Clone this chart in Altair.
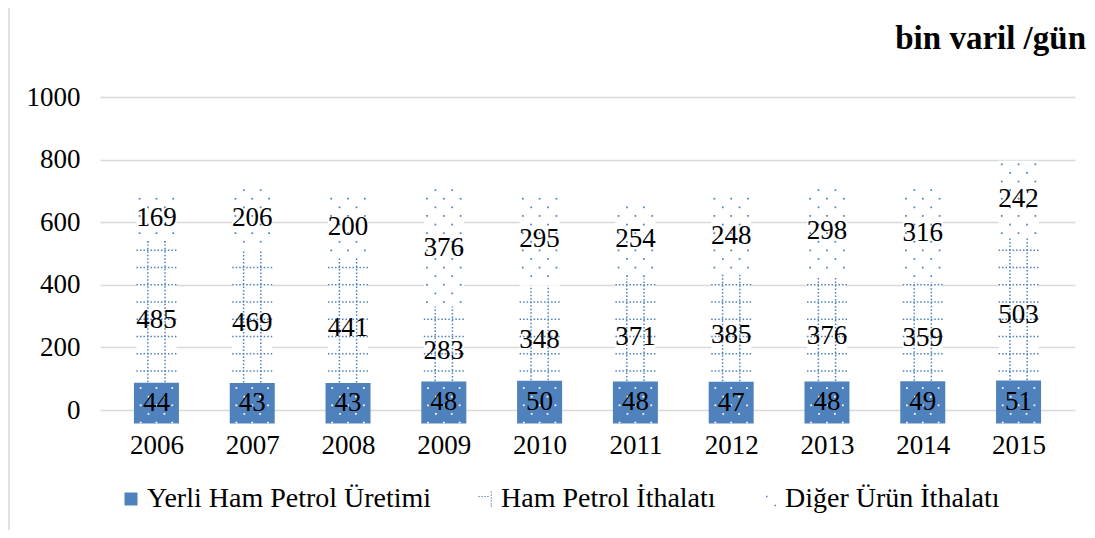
import altair as alt
import pandas as pd

# ---- data ----
years = [2006, 2007, 2008, 2009, 2010, 2011, 2012, 2013, 2014, 2015]
yerli = [44, 43, 43, 48, 50, 48, 47, 48, 49, 51]
ham = [485, 469, 441, 283, 348, 371, 385, 376, 359, 503]
diger = [169, 206, 200, 376, 295, 254, 248, 298, 316, 242]
series_names = ["Yerli Ham Petrol Üretimi", "Ham Petrol İthalatı", "Diğer Ürün İthalatı"]
y_ticks = [0, 200, 400, 600, 800, 1000]
unit_label = "bin varil /gün"

# ---- styling ----
BLUE = "#4F81BD"
GRID = "#d9d9d9"
FONT = "Liberation Serif"
FS = 27
W, H = 975, 313
XDOM = [2005.463, 2015.537]
PXY = W / (XDOM[1] - XDOM[0])  # pixels per year unit

rows = []
for i, yr in enumerate(years):
    for k, (s, vals) in enumerate(zip(series_names, [yerli, ham, diger])):
        rows.append({"year": yr, "series": s, "value": vals[i], "order": k})
df = pd.DataFrame(rows)
one = pd.DataFrame({"a": [0]})

xs = alt.Scale(domain=XDOM, nice=False, zero=False)
ys = alt.Scale(domain=[0, 1000], nice=False)


def X(field="year"):
    return alt.X(f"{field}:Q", scale=xs, title=None)


def Y(field):
    return alt.Y(f"{field}:Q", scale=ys, title=None)


base = (
    alt.Chart(df)
    .transform_stack(
        stack="value",
        groupby=["year"],
        sort=[alt.SortField("order", order="ascending")],
        as_=["base", "top"],
    )
    .transform_calculate(mid="(datum.base + datum.top) / 2")
)

f_yerli = f"datum.series == '{series_names[0]}'"
f_ham = f"datum.series == '{series_names[1]}'"
f_dig = f"datum.series == '{series_names[2]}'"

# white backgrounds of patterned segments (carries the axes)
ham_bg = base.transform_filter(f_ham).mark_bar(width=40, color="white").encode(
    x=alt.X(
        "year:Q",
        scale=xs,
        title=None,
        axis=alt.Axis(
            values=years, format="d", title=None, grid=False, domain=False,
            ticks=False, tickSize=0, labelFont=FONT, labelFontSize=FS,
            labelColor="black", labelPadding=22, labelFlush=False, labelOverlap=False,
        ),
    ),
    y=alt.Y(
        "base:Q",
        scale=ys,
        title=None,
        axis=alt.Axis(
            values=y_ticks, format="d", title=None, domain=False, ticks=False, tickSize=0,
            grid=True, gridColor=GRID, gridWidth=1.5, labelFont=FONT,
            labelFontSize=FS, labelColor="black", labelPadding=20,
        ),
    ),
    y2="top:Q",
)
dig_bg = base.transform_filter(f_dig).mark_bar(width=40, color="white").encode(
    x=X(), y=Y("base"), y2="top:Q"
)

# ham petrol pattern: dotted grid
dash = dict(color=BLUE, strokeWidth=1.5, strokeDash=[1.5, 2])
ham_v1 = base.transform_filter(f_ham).mark_rule(xOffset=-8.6, **dash).encode(
    x=X(), y=Y("base"), y2="top:Q"
)
ham_v2 = base.transform_filter(f_ham).mark_rule(xOffset=8.6, **dash).encode(
    x=X(), y=Y("base"), y2="top:Q"
)
ham_h = (
    base.transform_filter(f_ham)
    .transform_calculate(rr="sequence(ceil((datum.base - 400) / 55) * 55 + 400, datum.top - 2, 55)")
    .transform_flatten(["rr"], as_=["ry"])
    .mark_rule(xOffset=-20, x2Offset=20, **dash)
    .encode(x=X(), x2=alt.X2("year"), y=Y("ry"))
)


# staggered dot pattern
def dots(filter_expr, lo, hi, offs3, offs2, color):
    return (
        base.transform_filter(filter_expr)
        .transform_calculate(
            rr=f"sequence(ceil(({lo} - 400) / 27.5) * 27.5 + 400, {hi}, 27.5)"
        )
        .transform_flatten(["rr"], as_=["ry"])
        .transform_calculate(
            offs=f"abs(round((datum.ry - 400) / 27.5)) % 2 == 0 ? {offs3} : {offs2}"
        )
        .transform_flatten(["offs"], as_=["off"])
        .transform_calculate(dx=f"datum.year + datum.off / {PXY}")
        .mark_square(size=3, color=color, opacity=1)
        .encode(x=X("dx"), y=Y("ry"))
    )


dig_dots = dots(f_dig, "datum.base + 4", "datum.top - 2", "[-17, 0, 17]", "[-8.5, 8.5]", BLUE)

# domestic production bar (solid, thick border of the same colour)
yerli_bar = base.transform_filter(f_yerli).mark_bar(
    width=18, color=BLUE, stroke=BLUE, strokeWidth=27
).encode(x=X(), y=Y("base"), y2="top:Q")
yerli_dots = dots(f_yerli, "datum.base - 40", "datum.top + 40", "[-16, 0, 16]", "[-8, 8]", "white")

labels = base.mark_text(font=FONT, fontSize=FS, color="black", baseline="middle").encode(
    x=X(), y=Y("mid"), text="value:Q"
)

ham_path = (
    "M-1,-0.47h0.2v0.18h-0.2Z M-0.55,-0.47h0.2v0.18h-0.2Z "
    "M-0.1,-0.47h0.2v0.18h-0.2Z M0.35,-0.47h0.2v0.18h-0.2Z "
    "M0.88,-1.15h0.18v0.2h-0.18Z M0.88,-0.7h0.18v0.2h-0.18Z M0.88,-0.25h0.18v0.2h-0.18Z "
    "M0.88,0.2h0.18v0.2h-0.18Z M0.88,0.65h0.18v0.2h-0.18Z M0.88,1.0h0.18v0.2h-0.18Z"
)
dig_path = "M-0.45,-0.5h0.23v0.23h-0.23Z M0.85,0.9h0.23v0.23h-0.23Z"

legend_layer = base.mark_point(filled=True, opacity=0, color=BLUE).encode(
    x=X(),
    y=Y("mid"),
    shape=alt.Shape(
        "series:N",
        scale=alt.Scale(domain=series_names, range=["square", ham_path, dig_path]),
        legend=alt.Legend(
            orient="none", legendX=17, legendY=388, direction="horizontal",
            columns=3, title=None, labelFont=FONT, labelFontSize=28,
            labelColor="black", labelOffset=2, columnPadding=39, symbolSize=169,
            symbolFillColor=BLUE, symbolStrokeWidth=0, symbolOpacity=1,
            padding=0, labelLimit=0,
        ),
    ),
)

title_text = alt.Chart(one).mark_text(
    text=unit_label, font=FONT, fontSize=33, fontWeight="bold", align="right",
    baseline="alphabetic", color="black",
).encode(x=alt.value(986), y=alt.value(-48))

border = alt.Chart(one).mark_rule(color=GRID, strokeWidth=1.5).encode(
    x=alt.value(-91), y=alt.value(-89), y2=alt.value(H + 120)
)

chart = (
    alt.layer(
        ham_bg, dig_bg, ham_v1, ham_v2, ham_h, dig_dots, yerli_bar, yerli_dots,
        labels, legend_layer, title_text, border,
    )
    .properties(
        width=W, height=H,
        padding={"left": 92, "top": 89, "right": 12, "bottom": 120},
        autosize=alt.AutoSizeParams(type="none"),
    )
    .configure(font=FONT)
    .configure_view(stroke=None)
)

chart.save("out.html", embed_options={"renderer": "svg", "actions": False})
